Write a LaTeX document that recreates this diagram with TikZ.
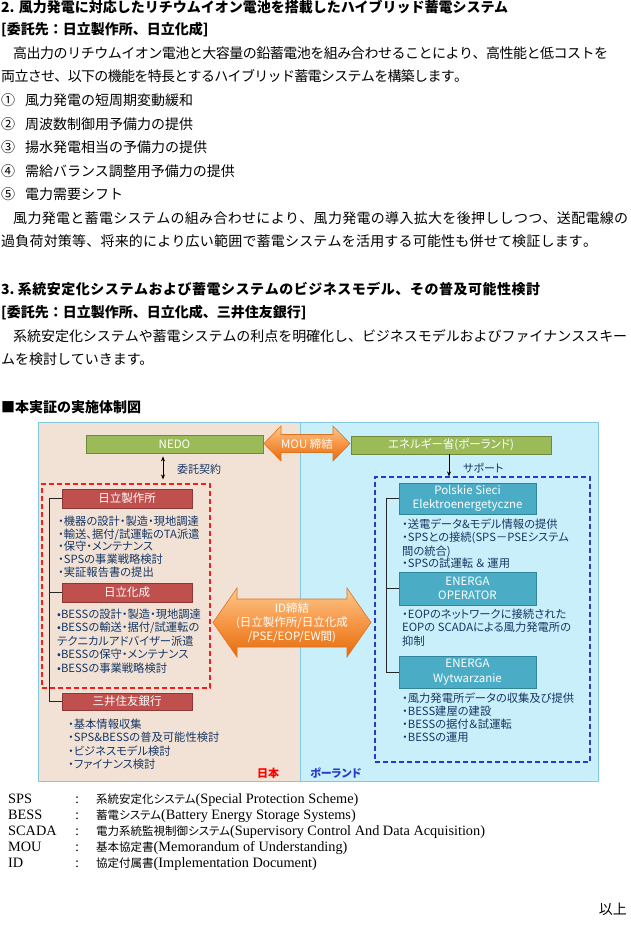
\documentclass[tikz,border=0pt]{standalone}
\usepackage{fontspec}
\setmainfont{Noto Sans CJK JP}
\newfontfamily\jpp{Noto Sans CJK JP}[RawFeature=+palt]
\newfontfamily\lser{Liberation Serif}
\usetikzlibrary{arrows.meta}
\definecolor{beige}{RGB}{242,226,214}
\definecolor{lblue}{RGB}{200,239,250}
\definecolor{panelb}{RGB}{130,200,222}
\definecolor{gfill}{RGB}{155,187,89}
\definecolor{gdraw}{RGB}{113,137,63}
\definecolor{rfill}{RGB}{192,80,77}
\definecolor{rdraw}{RGB}{140,56,54}
\definecolor{tfill}{RGB}{75,172,198}
\definecolor{tdraw}{RGB}{49,133,155}
\definecolor{navy}{RGB}{23,55,100}
\definecolor{otop}{RGB}{252,200,140}
\definecolor{omid}{RGB}{247,150,70}
\definecolor{obot}{RGB}{228,108,10}
\definecolor{odraw}{RGB}{220,115,35}
\definecolor{dred}{RGB}{240,30,30}
\definecolor{dblue}{RGB}{40,60,200}
\makeatletter
\def\spr#1{\spr@a#1\@nil}
\def\spr@a#1#2\@nil{#1\ifx\relax#2\relax\else\spr@glue\spr@a#2\@nil\fi}
\def\spr@glue{\hskip 0pt plus 1fil minus 1fil\relax}
\makeatother
\newcommand\jline[2]{\hbox to #1{#2}}
\tikzset{
  body/.style={anchor=west, inner sep=0pt, text height=12pt, text depth=2pt, font=\fontsize{14}{16}\selectfont},
  head/.style={body, font=\fontsize{14}{16}\selectfont\bfseries},
  bul/.style={anchor=west, inner sep=0pt, text=navy, text height=9.5pt, text depth=1.5pt, font=\fontsize{11.3}{13}\selectfont\jpp},
  panel/.style={draw=panelb, line width=0.8pt, inner sep=0pt},
  gbox/.style={draw=gdraw, fill=gfill, text=white, inner sep=0pt, line width=0.8pt, font=\fontsize{11.5}{13}\selectfont\jpp},
  rbox/.style={draw=rdraw, fill=rfill, text=white, inner sep=0pt, line width=0.8pt, minimum width=130pt, minimum height=19pt, font=\fontsize{11.5}{13}\selectfont\jpp},
  tbox/.style={draw=tdraw, fill=tfill, text=white, inner sep=0pt, line width=0.8pt, minimum width=137pt, align=center, font=\fontsize{11.5}{14.5}\selectfont},
  oarrow/.style={draw=odraw, line width=0.6pt, top color=otop, bottom color=obot, middle color=omid},
  olab/.style={inner sep=0pt, text=white, align=center, font=\fontsize{11.5}{14}\selectfont\jpp},
  reddash/.style={draw=dred, line width=1.2pt, dash pattern=on 5pt off 3pt, inner sep=0pt},
  bluedash/.style={draw=dblue, line width=1.2pt, dash pattern=on 5pt off 3pt, inner sep=0pt},
  conn/.style={draw=black!85, line width=0.7pt},
  dblarr/.style={black, line width=0.7pt, {Stealth[length=5pt,width=4pt]}-{Stealth[length=5pt,width=4pt]}},
  onearr/.style={black, line width=0.7pt, -{Stealth[length=5pt,width=4pt]}},
  lbl/.style={anchor=west, inner sep=0pt, text=navy, font=\fontsize{11}{13}\selectfont\jpp},
  lg/.style={anchor=west, inner sep=0pt, text height=10pt, text depth=2pt, font=\fontsize{14.3}{16}\selectfont\lser},
}
\newcommand\lj[1]{{\fontsize{11.5}{14}\selectfont\jpp #1}}
\begin{document}
\begin{tikzpicture}[x=1pt,y=-1pt]
\useasboundingbox (0,0) rectangle (630,931);
\fill[white] (0,0) rectangle (630,931);
% ---- top text ----
\node[head] (t1) at (1,8) {2. 風力発電に対応したリチウムイオン電池を搭載したハイブリッド蓄電システム};
\node[head] (t2) at (1,30) {[委託先：日立製作所、日立化成]};
\node[body] (t3) at (13,54) {\jline{595pt}{\spr{高出力のリチウムイオン電池と大容量の鉛蓄電池を組み合わせることにより、高性能と低コストを}}};
\node[body] (t4) at (1,77) {\jline{467pt}{\spr{両立させ、以下の機能を特長とするハイブリッド蓄電システムを構築します。}}};
\node[body] (n1) at (1,101) {①}; \node[body] (i1) at (25,101) {風力発電の短周期変動緩和};
\node[body] (n2) at (1,124) {②}; \node[body] (i2) at (25,124) {周波数制御用予備力の提供};
\node[body] (n3) at (1,148) {③}; \node[body] (i3) at (25,148) {揚水発電相当の予備力の提供};
\node[body] (n4) at (1,171) {④}; \node[body] (i4) at (25,171) {需給バランス調整用予備力の提供};
\node[body] (n5) at (1,194) {⑤}; \node[body] (i5) at (25,194) {電力需要シフト};
\node[body] (t10) at (13,218) {\jline{615pt}{\spr{風力発電と蓄電システムの組み合わせにより、風力発電の導入拡大を後押ししつつ、送配電線の}}};
\node[body] (t11) at (1,241) {\jline{596pt}{\spr{過負荷対策等、将来的により広い範囲で蓄電システムを活用する可能性も併せて検証します。}}};
\node[head] (t12) at (1,289) {\jline{539pt}{3.\ \spr{系統安定化システムおよび蓄電システムのビジネスモデル、その普及可能性検討}}};
\node[head] (t13) at (1,312) {[委託先：日立製作所、日立化成、三井住友銀行]};
\node[body] (t14) at (13,336) {\jline{614pt}{\spr{系統安定化システムや蓄電システムの利点を明確化し、ビジネスモデルおよびファイナンススキー}}};
\node[body] (t15) at (1,359) {ムを検討していきます。};
\node[head] (t16) at (1,407) {■本実証の実施体制図};
% ---- panels ----
\node[panel, fill=beige, minimum width=262pt, minimum height=359pt] (jp) at (169,601.5) {};
\node[panel, fill=lblue, minimum width=298pt, minimum height=359pt] (pl) at (449,601.5) {};
% ---- top boxes ----
\node[gbox, minimum width=177pt, minimum height=18pt] (nedo) at (174.5,444) {NEDO};
\node[gbox, minimum width=200pt, minimum height=18pt] (moe) at (451,445) {エネルギー省(ポーランド)};
\path[oarrow] (264,443.5) -- (281,426) -- (281,434.5) -- (333,434.5) -- (333,426) -- (350,443.5)
  -- (333,461) -- (333,452.5) -- (281,452.5) -- (281,461) -- cycle;
\node[olab] (mou) at (307,444) {MOU 締結};
% ---- groups ----
\node[reddash, minimum width=168pt, minimum height=204pt] (rgrp) at (126,586) {};
\node[bluedash, minimum width=215pt, minimum height=285pt] (bgrp) at (482.5,619.5) {};
\coordinate (ax) at (163,0);
\draw[dblarr, shorten <=3pt, shorten >=4pt] (nedo.south -| ax) -- (rgrp.north -| ax);
\node[lbl] (itaku) at (177,469) {委託契約};
\coordinate (bx) at (449,0);
\draw[onearr] (moe.south -| bx) -- (bgrp.north -| bx);
\node[lbl] (sup) at (463,468) {サポート};
% ---- Japan side ----
\node[rbox] (hit) at (127,498.5) {日立製作所};
\node[rbox] (hc) at (127,592.5) {日立化成};
\node[rbox, minimum height=17pt] (smbc) at (127,701.5) {三井住友銀行};
\coordinate (lx) at (49,0);
\draw[conn] (hit.west) -- (hit.west -| lx) -- (smbc.west -| lx) -- (smbc.west);
\draw[conn] (hc.west -| lx) -- (hc.west);
\node[bul] (h1) at (58,521) {・機器の設計・製造・現地調達};
\node[bul] (h2) at (58,534) {・輸送、据付/試運転のTA派遣};
\node[bul] (h3) at (58,546.5) {・保守・メンテナンス};
\node[bul] (h4) at (58,559.5) {・SPSの事業戦略検討};
\node[bul] (h5) at (58,572) {・実証報告書の提出};
\node[bul] (c1) at (57,614) {•BESSの設計・製造・現地調達};
\node[bul] (c2) at (57,627.5) {•BESSの輸送・据付/試運転の};
\node[bul] (c3) at (57,641) {テクニカルアドバイザー派遣};
\node[bul] (c4) at (57,654.5) {•BESSの保守・メンテナンス};
\node[bul] (c5) at (57,668) {•BESSの事業戦略検討};
\node[bul] (s1) at (68,724) {・基本情報収集};
\node[bul] (s2) at (68,737.5) {・SPS\&BESSの普及可能性検討};
\node[bul] (s3) at (68,751) {・ビジネスモデル検討};
\node[bul] (s4) at (68,764.5) {・ファイナンス検討};
\node[inner sep=0pt, text=red, font=\fontsize{11}{13}\selectfont\jpp\bfseries] (jpl) at (268,773) {日本};
% ---- Poland side ----
\node[tbox, minimum height=31pt] (pse) at (467.5,498.5) {Polskie Sieci\\Elektroenergetyczne};
\node[tbox, minimum height=33pt] (eop) at (467.5,588.5) {ENERGA\\OPERATOR};
\node[tbox, minimum height=32pt] (ew) at (467.5,672) {ENERGA\\Wytwarzanie};
\coordinate (rx) at (386,0);
\draw[conn] (pse.west) -- (pse.west -| rx) -- (ew.west -| rx) -- (ew.west);
\draw[conn] (eop.west -| rx) -- (eop.west);
\node[bul] (p1) at (402,524) {・送電データ\&モデル情報の提供};
\node[bul] (p2) at (402,537.5) {・SPSとの接続(SPS－PSEシステム};
\node[bul] (p3) at (402,551) {間の統合)};
\node[bul] (p4) at (402,563.5) {・SPSの試運転 ＆ 運用};
\node[bul] (e1) at (402,614) {・EOPのネットワークに接続された};
\node[bul] (e2) at (402,627.5) {EOPの SCADAによる風力発電所の};
\node[bul] (e3) at (402,641) {抑制};
\node[bul] (w1) at (402,698) {・風力発電所データの収集及び提供};
\node[bul] (w2) at (402,711) {・BESS建屋の建設};
\node[bul] (w3) at (402,724) {・BESSの据付＆試運転};
\node[bul] (w4) at (402,737) {・BESSの運用};
\node[anchor=west, inner sep=0pt, text=dblue, font=\fontsize{11}{13}\selectfont\jpp\bfseries] (pll) at (310,773) {ポーランド};
% ---- ID arrow ----
\path[oarrow] (213,622.5) -- (237,588) -- (237,599) -- (347,599) -- (347,588) -- (371,622.5)
  -- (347,657) -- (347,647) -- (237,647) -- (237,657) -- cycle;
\node[olab] (idl) at (292,623) {ID締結\\(日立製作所/日立化成\\/PSE/EOP/EW間)};
% ---- legend ----
\node[lg] (a1) at (8,799) {SPS};   \node[lg] (k1) at (75,799) {:}; \node[lg] (d1) at (96,799) {\lj{系統安定化システム}(Special Protection Scheme)};
\node[lg] (a2) at (8,815) {BESS};  \node[lg] (k2) at (75,815) {:}; \node[lg] (d2) at (96,815) {\lj{蓄電システム}(Battery Energy Storage Systems)};
\node[lg] (a3) at (8,831) {SCADA}; \node[lg] (k3) at (75,831) {:}; \node[lg] (d3) at (96,831) {\lj{電力系統監視制御システム}(Supervisory Control And Data Acquisition)};
\node[lg] (a4) at (8,847) {MOU};   \node[lg] (k4) at (75,847) {:}; \node[lg] (d4) at (96,847) {\lj{基本協定書}(Memorandum of Understanding)};
\node[lg] (a5) at (8,863) {ID};    \node[lg] (k5) at (75,863) {:}; \node[lg] (d5) at (96,863) {\lj{協定付属書}(Implementation Document)};
\node[body, anchor=east] (fin) at (627,909) {以上};
\end{tikzpicture}
\end{document}
